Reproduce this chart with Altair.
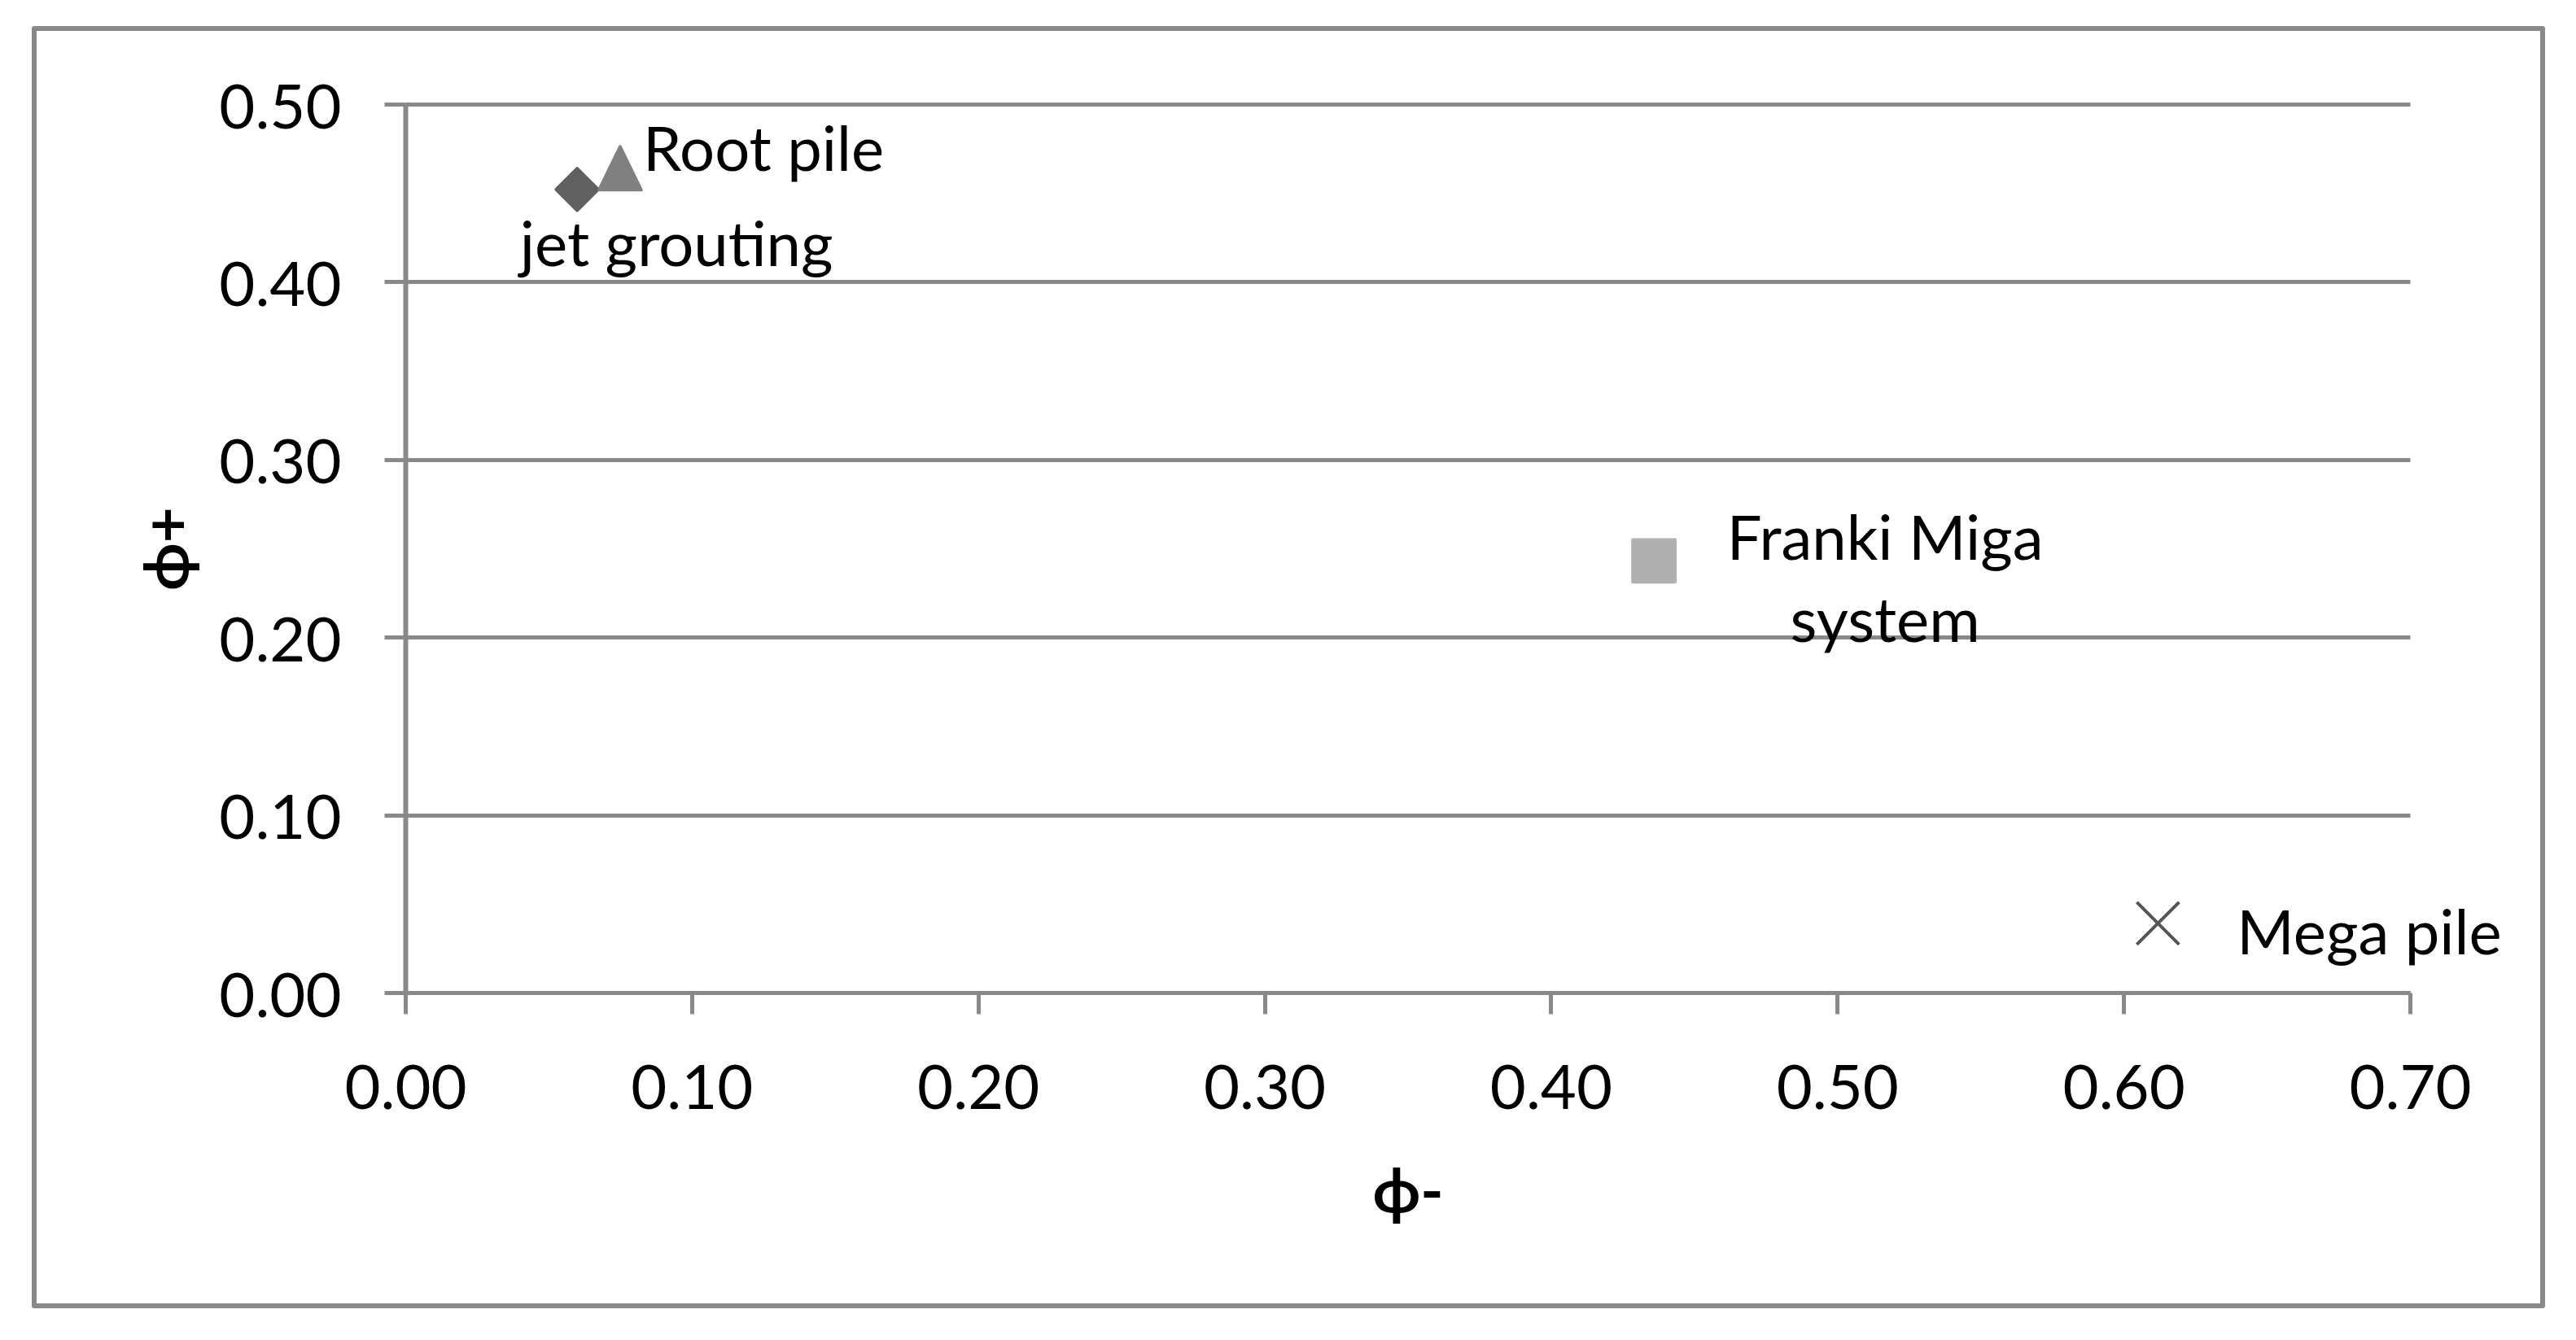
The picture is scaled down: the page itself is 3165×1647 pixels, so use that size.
import altair as alt
import pandas as pd

# ---- data ----
names = ["jet grouting", "Root pile", "Franki Miga system", "Mega pile"]
labels = ["jet grouting", "Root pile", "Franki Miga\nsystem", "Mega pile"]
phi_minus = [0.060, 0.075, 0.436, 0.612]
phi_plus = [0.452, 0.463, 0.243, 0.039]
x_ticks = [0.0, 0.1, 0.2, 0.3, 0.4, 0.5, 0.6, 0.7]
y_ticks = [0.0, 0.1, 0.2, 0.3, 0.4, 0.5]

df = pd.DataFrame({"name": names, "label": labels, "phi_minus": phi_minus, "phi_plus": phi_plus})

W, H = 2463, 1092
FONT = "Lato"
GRAY = "#898989"

shape_paths = [
    "M0,-1L1,0L0,1L-1,0Z",          # diamond
    "M0,-1.1L1,0.95L-1,0.95Z",      # triangle
    "M-1,-1L1,-1L1,1L-1,1Z",        # square
    "M-1,-1L1,1M-1,1L1,-1",         # x
]
colors = ["#606060", "#808080", "#b0b0b0", "#555555"]
sizes = [2650, 2700, 2750, 3700]

x_enc = alt.X(
    "phi_minus:Q",
    scale=alt.Scale(domain=[0, 0.7], nice=False, zero=True),
    axis=alt.Axis(
        values=x_ticks, format=".2f", grid=False,
        title="ϕ-", titleFont=FONT, titleFontSize=76, titleFontWeight="bold",
        titleColor="black", titleY=247, titleBaseline="middle",
        labelFont=FONT, labelFontSize=76, labelColor="black", labelPadding=56,
        labelBaseline="top", labelFlush=False,
        domainColor=GRAY, domainWidth=5, tickColor=GRAY, tickWidth=5, tickSize=26,
    ),
)
y_enc = alt.Y(
    "phi_plus:Q",
    scale=alt.Scale(domain=[0, 0.5], nice=False),
    axis=alt.Axis(
        values=y_ticks, format=".2f", grid=True, gridColor=GRAY, gridWidth=5,
        title="ϕ+", titleFont=FONT, titleFontSize=76, titleFontWeight="bold",
        titleColor="black", titleX=-290, titleY=H / 2, titleAngle=-90,
        titleBaseline="middle", titleAlign="center",
        labelFont=FONT, labelFontSize=76, labelColor="black", labelPadding=53,
        labelOffset=6, labelFlush=False,
        domainColor=GRAY, domainWidth=6, tickColor=GRAY, tickWidth=5, tickSize=26,
    ),
)

base = alt.Chart(df)

points = base.mark_point(filled=True, strokeWidth=4, strokeJoin="round", opacity=1).encode(
    x=x_enc,
    y=y_enc,
    shape=alt.Shape("name:N", scale=alt.Scale(domain=names, range=shape_paths), legend=None),
    fill=alt.Fill("name:N", scale=alt.Scale(domain=names, range=colors), legend=None),
    stroke=alt.Stroke("name:N", scale=alt.Scale(domain=names, range=colors), legend=None),
    size=alt.Size("name:N", scale=alt.Scale(domain=names, range=sizes), legend=None),
)


def label_layer(name, dx, dy, align):
    return base.transform_filter(alt.datum.name == name).mark_text(
        font=FONT, fontSize=76, color="black", align=align, baseline="middle",
        dx=dx, dy=dy, lineBreak="\n", lineHeight=101,
    ).encode(x="phi_minus:Q", y="phi_plus:Q", text="label:N")


lbl_root = label_layer("Root pile", 28, -22, "left")
lbl_jet = label_layer("jet grouting", 122, 71, "center")
lbl_franki = label_layer("Franki Miga system", 284, -24, "center")
lbl_mega = label_layer("Mega pile", 97, 15, "left")

frame = alt.Chart(alt.Data(values=[{}])).mark_rect(
    filled=False, stroke=GRAY, strokeWidth=6, strokeJoin="round"
).encode(
    x=alt.value(-456), x2=alt.value(2626), y=alt.value(-93), y2=alt.value(1477)
)

chart = alt.layer(frame, points, lbl_root, lbl_jet, lbl_franki, lbl_mega).properties(
    width=W, height=H,
    autosize=alt.AutoSizeParams(type="none"),
    padding={"left": 490, "top": 120, "right": 196, "bottom": 400},
    background="white",
).configure_view(stroke=None)

chart.save("out.html", embed_options={"renderer": "svg", "actions": False})
